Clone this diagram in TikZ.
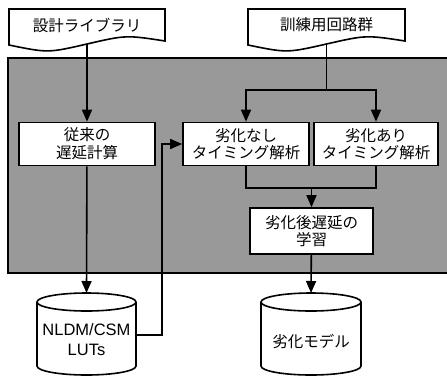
\documentclass[tikz,border=0pt]{standalone}
\usepackage{fontspec}
\setmainfont{Liberation Sans}
\newfontfamily\jp{Noto Sans CJK JP}
\usetikzlibrary{arrows.meta}
\definecolor{panel}{HTML}{999999}
\newcommand\jpfont{\jp\fontsize{15.5}{18}\selectfont}
\newcommand\lafont{\fontsize{16.5}{20}\selectfont}
\begin{document}
\begin{tikzpicture}[x=1pt,y=-1pt, line join=miter,
  ln/.style={line width=1.6pt},
  arr/.style={ln, -{Triangle[length=12pt,width=10pt]}},
  box/.style={draw, line width=1.6pt, fill=white, inner sep=0pt, align=center, font=\jpfont},
  lbl/.style={inner sep=0pt, align=center, font=\jpfont}]
\useasboundingbox (0,0) rectangle (447,376);
\fill[white] (0,0) rectangle (447,376);
% panel
\draw[ln, fill=panel] (8,58) rectangle (460,273);
% documents
\draw[ln, fill=white] (9,9) -- (165,9) -- (165,41) .. controls (126,35) .. (87,44) .. controls (48,53) .. (9,45) -- cycle;
\node[lbl] (lib) at (87,25) {設計ライブラリ};
\coordinate (libB) at (87,44);
\draw[ln, fill=white] (248,9) -- (405,9) -- (405,41) .. controls (366,35) .. (326.5,44) .. controls (287,53) .. (248,45) -- cycle;
\node[lbl] (train) at (326.5,25) {訓練用回路群};
\coordinate (trainB) at (326.5,44);
% boxes
\node[box, minimum width=136pt, minimum height=43pt] (conv) at (87,144) {従来の\\遅延計算};
\node[box, minimum width=126pt, minimum height=43pt, font=\jp\fontsize{15.5}{17}\selectfont] (noag) at (246,144) {劣化なし\\タイミング解析};
\node[box, minimum width=124pt, minimum height=43pt, font=\jp\fontsize{15.5}{17}\selectfont] (ag) at (376,144) {劣化あり\\タイミング解析};
\node[box, minimum width=123pt, minimum height=46pt, font=\jp\fontsize{15.5}{17}\selectfont] (learn) at (311.5,231) {劣化後遅延の\\学習};
% cylinders
\draw[ln, fill=white] (37,302) -- (37,366) arc[start angle=180, end angle=0, x radius=49.5, y radius=9] -- (136,302) arc[start angle=0, end angle=-180, x radius=49.5, y radius=9] -- cycle;
\draw[ln] (37,302) arc[start angle=180, end angle=0, x radius=49.5, y radius=9];
\node[inner sep=0pt, align=center, font=\lafont] (lut) at (86.5,340) {NLDM/CSM\\LUTs};
\coordinate (lutT) at (86.5,293);
\coordinate (lutR) at (136,335);
\draw[ln, fill=white] (261,302) -- (261,366) arc[start angle=180, end angle=0, x radius=50, y radius=9] -- (361,302) arc[start angle=0, end angle=-180, x radius=50, y radius=9] -- cycle;
\draw[ln] (261,302) arc[start angle=180, end angle=0, x radius=50, y radius=9];
\node[lbl] (model) at (311,342) {劣化モデル};
\coordinate (modelT) at (311,293);
% helper coordinates
\coordinate (split) at (326.5,90);
\coordinate (join) at (311.5,188);
\coordinate (bend) at (162,144);
% connectors
\draw[arr] (libB) -- (conv);
\draw[ln] (trainB) -- (split);
\draw[arr] (split) -| (noag);
\draw[arr] (split) -| (ag);
\draw[ln] (noag) |- (join);
\draw[ln] (ag) |- (join);
\draw[arr] (join) -- (learn);
\draw[arr] (learn) -- (modelT);
\draw[arr] (conv) -- (lutT);
\draw[arr] (lutR) -| (bend) -- (noag);
\end{tikzpicture}
\end{document}
